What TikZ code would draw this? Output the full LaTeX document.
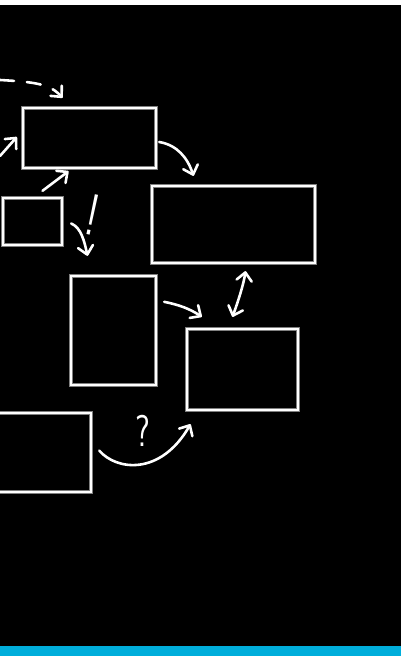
\documentclass[tikz,border=0pt]{standalone}
\usepackage{fontspec}
\usepackage{tikz}
\usetikzlibrary{arrows.meta}
\definecolor{boardblue}{RGB}{0,174,219}

\begin{document}
\begin{tikzpicture}[x=0.03cm, y=-0.03cm,
 panel/.style={draw=white, line width=2pt, inner sep=0pt, preaction={draw=black!50, line width=3.4pt}},
 chalk/.style={draw=white, line width=2.2pt, line cap=round, -{Straight Barb[length=7pt,width=13pt,round]}},
 scrawl/.style={text=white, inner sep=0pt}]
 \useasboundingbox (0,0) rectangle (401,656);
 \fill[white] (0,0) rectangle (401,5);
 \fill[black] (0,5) rectangle (401,646);
 \fill[boardblue] (0,646) rectangle (401,656);
 \node[panel, minimum width=3.99cm, minimum height=1.8cm] (topbox) at (89.5,138) {};
 \node[panel, minimum width=1.77cm, minimum height=1.41cm] (smallbox) at (32.5,221.5) {};
 \node[panel, minimum width=4.89cm, minimum height=2.31cm] (widebox) at (233.5,224.5) {};
 \node[panel, minimum width=2.55cm, minimum height=3.27cm] (tallbox) at (113.5,330.5) {};
 \node[panel, minimum width=3.33cm, minimum height=2.43cm] (lowbox) at (242.5,369.5) {};
 \node[panel, minimum width=3.63cm, minimum height=2.37cm] (edgebox) at (30.5,452.5) {};
 \coordinate (dashin) at (0,80);
 \coordinate (leftin) at (0,156);
 \draw[chalk, dash pattern=on 12pt off 11pt] (dashin) .. controls (35,82) and (50,84) .. ([shift={(-27,-9)}]topbox.north);
 \draw[chalk] (leftin) -- ([shift={(-5,-1)}]topbox.west);
 \draw[chalk] ([shift={(10,-6)}]smallbox.north) -- ([shift={(-21,2)}]topbox.south);
 \draw[chalk] ([shift={(2,4)}]topbox.east) .. controls +(18,3) and +(-6,-18) .. ([shift={(-40,-9)}]widebox.north);
 \draw[chalk] ([shift={(8,2)}]smallbox.east) .. controls +(10,4) and +(-3,-14) .. ([shift={(-26,-19)}]tallbox.north);
 \draw[chalk] ([shift={(7,27)}]tallbox.north east) .. controls +(15,3) and +(-12,-8) .. ([shift={(16,-11)}]lowbox.north west);
 \draw[chalk, {Straight Barb[length=7pt,width=13pt,round]}-{Straight Barb[length=7pt,width=13pt,round]}] ([shift={(12,7)}]widebox.south) .. controls +(-2,14) and +(5,-14) .. ([shift={(-10,-11)}]lowbox.north);
 \draw[chalk] ([shift={(7,-2)}]edgebox.east) .. controls +(17,20) and +(-30,52) .. ([shift={(-52,13)}]lowbox.south);
 \node[scrawl, font=\sffamily\fontsize{50}{50}\selectfont, rotate=-12, xscale=0.7] (bang) at (93,215) {!};
 \node[scrawl, font=\sffamily\fontsize{38}{38}\selectfont, xscale=0.75] (query) at (143,431) {?};
\end{tikzpicture}
\end{document}
